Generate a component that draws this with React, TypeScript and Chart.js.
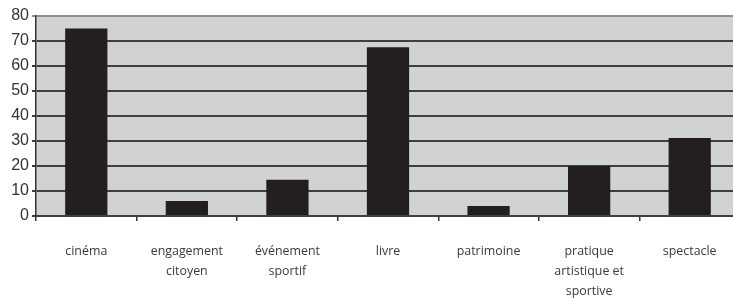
import React, { useEffect, useRef } from "react";
import { Chart, registerables } from "chart.js";
Chart.register(...registerables);

const categories: (string | string[])[] = [
  "cinéma",
  ["engagement", "citoyen"],
  ["événement", "sportif"],
  "livre",
  "patrimoine",
  ["pratique", "artistique et", "sportive"],
  "spectacle",
];
const values = [75, 6, 14.5, 67.5, 4, 20, 31.2];
const yTicks = [0, 10, 20, 30, 40, 50, 60, 70, 80];

const bgPlugin = {
  id: "plotBg",
  beforeDraw(chart: any) {
    const { ctx, chartArea } = chart;
    ctx.save();
    ctx.fillStyle = "#d1d2d4";
    ctx.fillRect(chartArea.left, chartArea.top, chartArea.right - chartArea.left, chartArea.bottom - chartArea.top);
    ctx.restore();
  },
};

export default function App() {
  const ref = useRef<HTMLCanvasElement>(null);
  useEffect(() => {
    document.body.style.margin = "0";
    const chart = new Chart(ref.current!, {
      type: "bar",
      data: {
        labels: categories,
        datasets: [
          {
            data: values,
            backgroundColor: "#231f20",
            barPercentage: 0.42,
            categoryPercentage: 1,
          },
        ],
      },
      plugins: [bgPlugin],
      options: {
        animation: false,
        responsive: false,
        layout: { padding: { top: 16, left: 0, right: 0, bottom: 0 } },
        plugins: { legend: { display: false }, tooltip: { enabled: false } },
        scales: {
          x: {
            afterFit(s: any) {
              s.height = 83;
            },
            grid: {
              drawOnChartArea: false,
              drawTicks: true,
              tickLength: 5,
              color: "#333333",
              lineWidth: 1.5,
              offset: true,
            },
            border: { color: "#404040", width: 2 },
            ticks: {
              maxRotation: 0,
              autoSkip: false,
              padding: 20,
              color: "#3a3a3a",
              font: { family: "'Open Sans', sans-serif", size: 12.4, lineHeight: 1.62 },
            },
          },
          y: {
            min: 0,
            max: 80,
            afterFit(s: any) {
              s.width = 36;
            },
            afterBuildTicks(s: any) {
              s.ticks = yTicks.map((v) => ({ value: v }));
            },
            grid: {
              color: (c: any) => (c.tick && c.tick.value === 80 ? "#8e9092" : "#3f3f3f"),
              lineWidth: 2,
              tickLength: 4,
            },
            border: { color: "#333333", width: 1.5 },
            ticks: {
              padding: 3,
              color: "#333333",
              font: { family: "'Liberation Sans Narrow', 'Liberation Sans', sans-serif", size: 16 },
            },
          },
        },
      },
    });
    return () => chart.destroy();
  }, []);
  return (
    <div style={{ width: 733, height: 299, overflow: "hidden" }}>
      <canvas ref={ref} width={740} height={299} style={{ display: "block" }} />
    </div>
  );
}
